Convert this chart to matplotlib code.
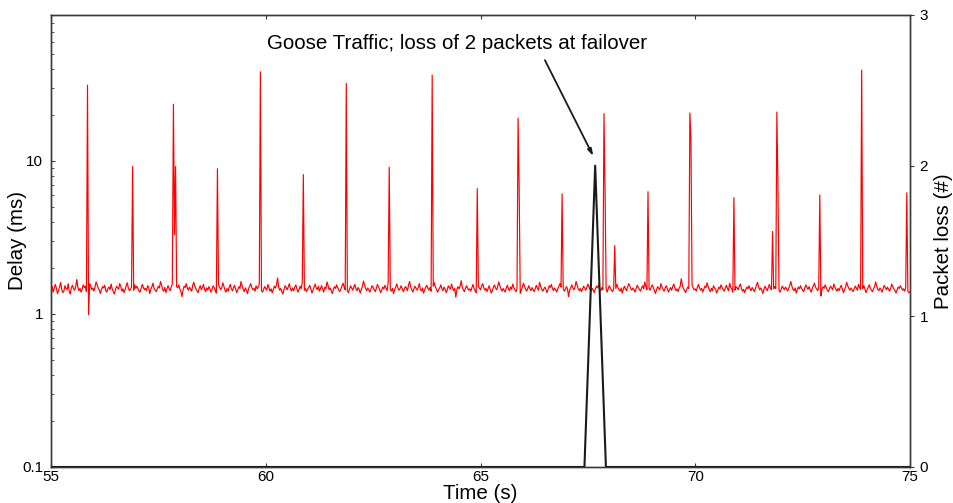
import numpy as np
import matplotlib
matplotlib.use("Agg")
import matplotlib.pyplot as plt
from matplotlib.ticker import FixedLocator, NullFormatter, LogLocator

plt.rcParams['font.family'] = ['Liberation Sans', 'DejaVu Sans']

# ---------------- data ----------------
t_start = 55.0
t_end = 75.0

# baseline delay (ms), evenly sampled from 55 s to 75 s
baseline_delay = [
    1.44,1.52,1.39,1.47,1.56,1.48,1.36,1.42,1.50,1.61,1.45,1.38,1.41,1.53,1.47,1.44,1.58,1.40,1.35,1.49,1.54,1.46,1.43,1.51,1.68,1.50,1.42,1.47,1.39,1.45,1.55,1.49,1.52,1.40,1.37,1.46,1.58,1.53,1.44,1.48,1.41,1.50,1.62,1.55,1.47,1.43,1.36,1.45,1.51,1.48,
    1.54,1.42,1.39,1.47,1.50,1.44,1.57,1.46,1.40,1.35,1.43,1.52,1.49,1.45,1.58,1.51,1.41,1.46,1.38,1.44,1.53,1.60,1.48,1.42,1.45,1.50,1.37,1.43,1.55,1.47,1.52,1.46,1.41,1.39,1.48,1.56,1.50,1.44,1.47,1.42,1.53,1.49,1.36,1.45,1.51,1.59,1.47,1.43,1.40,1.46,
    1.52,1.48,1.63,1.55,1.44,1.41,1.49,1.38,1.46,1.53,1.47,1.42,1.50,1.57,1.45,1.39,1.43,1.51,1.48,1.55,1.46,1.40,1.30,1.44,1.52,1.49,1.58,1.47,1.43,1.50,1.45,1.41,1.54,1.61,1.52,1.46,1.42,1.38,1.47,1.53,1.44,1.49,1.56,1.45,1.40,1.48,1.43,1.51,1.46,1.39,
    1.45,1.53,1.49,1.42,1.37,1.46,1.55,1.50,1.44,1.48,1.60,1.52,1.43,1.39,1.47,1.41,1.50,1.56,1.46,1.42,1.49,1.54,1.45,1.38,1.44,1.51,1.47,1.63,1.53,1.45,1.40,1.48,1.43,1.36,1.46,1.52,1.58,1.49,1.44,1.47,1.41,1.53,1.46,1.50,1.57,1.48,1.42,1.39,1.45,1.51,
    1.47,1.43,1.56,1.49,1.41,1.46,1.38,1.44,1.52,1.48,1.55,1.72,1.50,1.43,1.47,1.40,1.35,1.45,1.53,1.49,1.44,1.51,1.58,1.46,1.41,1.48,1.42,1.50,1.55,1.47,1.39,1.44,1.52,1.46,1.60,1.51,1.43,1.47,1.40,1.45,1.49,1.54,1.46,1.37,1.43,1.50,1.57,1.48,1.44,1.52,
    1.41,1.47,1.53,1.45,1.39,1.50,1.46,1.62,1.54,1.44,1.48,1.42,1.36,1.45,1.51,1.47,1.55,1.49,1.43,1.40,1.46,1.52,1.59,1.50,1.44,1.47,1.41,1.38,1.45,1.53,1.48,1.43,1.50,1.56,1.46,1.42,1.49,1.45,1.37,1.44,1.51,1.64,1.55,1.47,1.42,1.48,1.44,1.39,1.46,1.53,
    1.49,1.44,1.40,1.47,1.56,1.51,1.45,1.38,1.43,1.50,1.46,1.54,1.48,1.42,1.61,1.52,1.45,1.41,1.47,1.36,1.44,1.50,1.57,1.49,1.43,1.46,1.53,1.47,1.40,1.45,1.51,1.48,1.42,1.55,1.63,1.50,1.44,1.39,1.46,1.52,1.47,1.43,1.49,1.58,1.45,1.41,1.48,1.37,1.44,1.50,
    1.54,1.47,1.43,1.49,1.41,1.46,1.52,1.60,1.51,1.45,1.39,1.44,1.48,1.55,1.47,1.42,1.50,1.46,1.38,1.43,1.53,1.49,1.45,1.57,1.48,1.42,1.47,1.29,1.44,1.51,1.46,1.52,1.65,1.50,1.44,1.40,1.47,1.53,1.48,1.43,1.46,1.41,1.49,1.56,1.47,1.42,1.38,1.45,1.51,1.48,
    1.44,1.52,1.58,1.49,1.43,1.47,1.40,1.46,1.53,1.45,1.37,1.42,1.50,1.55,1.48,1.44,1.51,1.62,1.53,1.46,1.41,1.47,1.43,1.39,1.48,1.54,1.47,1.42,1.50,1.45,1.57,1.49,1.44,1.40,1.46,1.52,1.48,1.36,1.43,1.50,1.59,1.51,1.45,1.41,1.47,1.53,1.46,1.42,1.49,1.44,
    1.40,1.47,1.54,1.48,1.43,1.61,1.52,1.45,1.41,1.46,1.50,1.44,1.38,1.45,1.53,1.49,1.56,1.47,1.42,1.48,1.44,1.39,1.46,1.52,1.58,1.50,1.43,1.47,1.41,1.45,1.51,1.46,1.30,1.43,1.49,1.55,1.48,1.44,1.50,1.63,1.54,1.46,1.42,1.47,1.40,1.45,1.52,1.48,1.43,1.49,
    1.57,1.50,1.45,1.41,1.47,1.43,1.38,1.46,1.52,1.48,1.55,1.46,1.42,1.49,1.44,1.60,1.51,1.45,1.39,1.47,1.53,1.48,1.43,1.40,1.46,1.51,1.47,1.56,1.49,1.44,1.41,1.48,1.37,1.45,1.52,1.46,1.42,1.50,1.58,1.53,1.46,1.43,1.48,1.44,1.39,1.47,1.54,1.49,1.45,1.41,
    1.48,1.53,1.46,1.62,1.52,1.44,1.40,1.47,1.43,1.50,1.55,1.48,1.42,1.36,1.45,1.51,1.47,1.44,1.58,1.50,1.45,1.41,1.48,1.53,1.46,1.39,1.44,1.49,1.43,1.51,1.57,1.48,1.42,1.46,1.40,1.47,1.52,1.70,1.54,1.46,1.43,1.38,1.45,1.50,1.47,1.42,1.49,1.55,1.48,1.44,
    1.46,1.41,1.50,1.56,1.48,1.43,1.47,1.39,1.45,1.52,1.49,1.60,1.51,1.44,1.40,1.47,1.42,1.53,1.48,1.45,1.37,1.43,1.50,1.46,1.55,1.49,1.44,1.41,1.48,1.54,1.47,1.42,1.59,1.50,1.45,1.39,1.46,1.43,1.51,1.48,1.44,1.52,1.57,1.47,1.41,1.45,1.38,1.44,1.50,1.46,
    1.53,1.47,1.42,1.49,1.45,1.40,1.46,1.55,1.61,1.50,1.44,1.48,1.43,1.36,1.45,1.52,1.47,1.42,1.49,1.56,1.48,1.44,1.40,1.46,1.51,1.47,1.58,1.49,1.43,1.39,1.45,1.52,1.48,1.44,1.50,1.46,1.41,1.47,1.54,1.63,1.52,1.45,1.42,1.48,1.37,1.44,1.50,1.46,1.53,1.47,
    1.43,1.40,1.48,1.55,1.49,1.45,1.51,1.44,1.39,1.47,1.53,1.59,1.50,1.46,1.42,1.48,1.44,1.31,1.45,1.51,1.47,1.55,1.49,1.43,1.40,1.46,1.52,1.48,1.44,1.57,1.50,1.45,1.41,1.47,1.42,1.49,1.54,1.46,1.38,1.44,1.50,1.61,1.53,1.47,1.43,1.48,1.44,1.40,1.46,1.52,
    1.48,1.43,1.56,1.50,1.45,1.41,1.47,1.53,1.46,1.38,1.44,1.49,1.55,1.48,1.43,1.40,1.46,1.51,1.62,1.52,1.45,1.42,1.48,1.44,1.39,1.47,1.54,1.49,1.44,1.50,1.45,1.41,1.47,1.57,1.51,1.46,1.42,1.37,1.44,1.50,1.47,1.53,1.48,1.43,1.46,1.41,1.49,1.45,1.40,1.38,
    1.40,
]

spike_times = [55.86, 55.88, 56.90, 57.86, 57.88, 57.90, 58.88, 59.88, 60.88,
               61.88, 62.88, 63.88, 64.92, 65.88, 65.90, 66.90, 67.88, 67.90,
               68.12, 68.90, 69.88, 69.90, 70.90, 71.80, 71.90, 71.92, 72.90,
               73.88, 74.92]
spike_values = [31.3, 0.99, 9.2, 23.5, 3.3, 9.2, 8.9, 38.3, 8.15,
                32.1, 9.1, 36.4, 6.6, 19.1, 6.65, 6.1, 20.4, 6.4,
                2.8, 6.3, 20.6, 14.0, 5.75, 3.46, 20.9, 7.1, 6.0,
                39.3, 6.2]

loss_time = [55.0, 67.42, 67.67, 67.92, 75.0]
loss_packets = [0, 0, 2, 0, 0]

annotation_text = "Goose Traffic; loss of 2 packets at failover"

# ---------------- build delay series ----------------
delay = np.array(baseline_delay, dtype=float)
t = np.linspace(t_start, t_end, len(delay))
for st, sv in zip(spike_times, spike_values):
    idx = int(np.argmin(np.abs(t - st)))
    delay[idx] = sv

# ---------------- figure ----------------
fig = plt.figure(figsize=(9.54, 5.03), dpi=100)
ax = fig.add_axes([51/954, 1 - 467/503, (910-51)/954, (467-15)/503])
ax2 = ax.twinx()

spine_col = '#3a3a3a'

ax.plot(t, delay, color='#ff0000', lw=0.85, zorder=3)
ax.set_yscale('log')
ax.set_ylim(0.1, 90)
ax.set_xlim(55, 75)
ax.yaxis.set_major_locator(FixedLocator([0.1, 1, 10]))
ax.set_yticklabels(['0.1', '1', '10'])
ax.yaxis.set_minor_locator(LogLocator(base=10, subs=np.arange(2, 10)))
ax.yaxis.set_minor_formatter(NullFormatter())
ax.set_xticks([55, 60, 65, 70, 75])
ax.tick_params(axis='x', direction='in', length=3, width=0.8, top=True,
               labelsize=11, pad=2.5, colors=spine_col, labelcolor='black')
ax.tick_params(axis='y', which='major', direction='in', length=3, width=0.8,
               labelsize=11, pad=5.5, colors=spine_col, labelcolor='black')
ax.tick_params(axis='y', which='minor', direction='in', length=2, width=0.6,
               colors=spine_col)
ax.set_xlabel('Time (s)', fontsize=14.8, labelpad=0)
ax.set_ylabel('Delay (ms)', fontsize=14.8, va='center')
ax.yaxis.set_label_coords((17.5 - 51) / 859, 0.5)

ax2.plot(loss_time, loss_packets, color='#1a1a1a', lw=1.5, zorder=4)
ax2.set_ylim(0, 3)
ax2.set_yticks([0, 1, 2, 3])
ax2.tick_params(axis='y', direction='out', length=3, width=0.8,
                labelsize=11, pad=4, colors=spine_col, labelcolor='black')
ax2.set_ylabel('Packet loss (#)', fontsize=14.8, va='center')
ax2.yaxis.set_label_coords((944 - 51) / 859, 0.5)

for a in (ax, ax2):
    for s in a.spines.values():
        s.set_color(spine_col)
        s.set_linewidth(1.0)

ax2.text(64.45, 2.81, annotation_text, fontsize=14.8, ha='center', va='center')
ax2.annotate('', xy=(67.626, 2.063), xytext=(66.50, 2.70),
             arrowprops=dict(arrowstyle='-|>,head_length=0.4,head_width=0.12',
                             color='#1a1a1a', lw=1.3, shrinkA=0, shrinkB=0))

fig.savefig('out.png', dpi=100)
